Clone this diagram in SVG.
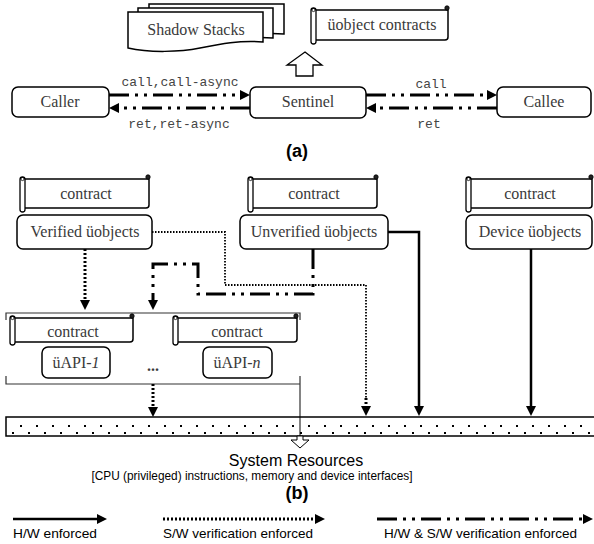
<svg xmlns="http://www.w3.org/2000/svg" width="594" height="544" viewBox="0 0 594 544">
<style>
.box{fill:#fff;stroke:#000;stroke-width:1.5}
.ser{font-family:"Liberation Serif","Times New Roman",serif;font-size:16px;fill:#3a3a3a;text-anchor:middle}
.mono{font-family:"Liberation Mono","Courier New",monospace;font-size:13px;fill:#444;text-anchor:middle}
.sans{font-family:"Liberation Sans",Arial,sans-serif;fill:#000}
.dd{fill:none;stroke:#000;stroke-width:3;stroke-dasharray:20 6 3 6 3 6}
.dot{fill:none;stroke:#000;stroke-width:3;stroke-dasharray:2 2}
.dott{fill:none;stroke:#000;stroke-width:1.8;stroke-dasharray:1.5 1.5}
.sol{fill:none;stroke:#000;stroke-width:2.5}
.roll{fill:#fff;stroke:#000;stroke-width:1.3}
.curl{fill:#222;stroke:#000;stroke-width:0.8}
</style>
<defs>
<marker id="ah" markerUnits="userSpaceOnUse" markerWidth="10" markerHeight="10" viewBox="0 0 10 10" refX="4" refY="5" orient="auto">
<path d="M0,0 L10,5 L0,10 Z" fill="#000"/>
</marker>
<path id="doc" d="M128,12 H263 V42 C240,40 220,44 200,48 C180,52 150,53 128,48 Z" fill="#fff" stroke="#000" stroke-width="1.5"/>
<pattern id="dots" patternUnits="userSpaceOnUse" x="6" y="417" width="16" height="19">
<rect x="14" y="8" width="2" height="2" fill="#000"/>
<rect x="6" y="15" width="2" height="2" fill="#000"/>
</pattern>
</defs>

<!-- (a) -->
<g id="shadow-stacks">
<use href="#doc" transform="translate(21,-8)"/>
<use href="#doc" transform="translate(10,-4)"/>
<use href="#doc"/>
<text class="ser" x="196" y="35">Shadow Stacks</text>
</g>
<g id="uobject-contracts">
<path class="box" d="M314,10 H448 V37 Q448,40 445,40 H314"/>
<rect class="roll" x="311" y="8" width="5" height="36" rx="2.5"/>
<circle cx="313.5" cy="10" r="1.6" fill="none" stroke="#000" stroke-width="0.8"/>
<circle class="curl" cx="447" cy="8" r="2.2"/>
<text class="ser" x="382" y="30">üobject contracts</text>
</g>
<g id="up-arrow">
<polygon points="305,52 322,65 313,65 313,76 296,76 296,65 287,65" fill="#fff" stroke="#000" stroke-width="1.3"/>
</g>
<g id="caller">
<rect class="box" x="12" y="87" width="97" height="30" rx="6"/>
<text class="ser" x="60" y="107">Caller</text>
</g>
<g id="sentinel">
<rect class="box" x="250" y="87" width="116" height="31" rx="6"/>
<text class="ser" x="308" y="107">Sentinel</text>
</g>
<g id="callee">
<rect class="box" x="497" y="87" width="94" height="30" rx="6"/>
<text class="ser" x="544" y="107">Callee</text>
</g>
<text id="label-a" class="sans" x="297" y="157" font-size="18" font-weight="bold" text-anchor="middle">(a)</text>

<!-- (b) nodes -->
<g id="contract-verified">
<path class="box" d="M23,179 H149 V205 Q149,208 146,208 H23"/>
<rect class="roll" x="20" y="177" width="5" height="35" rx="2.5"/>
<circle cx="22.5" cy="179" r="1.6" fill="none" stroke="#000" stroke-width="0.8"/>
<circle class="curl" cx="148" cy="177" r="2.2"/>
<text class="ser" x="86" y="199">contract</text>
</g>
<g id="verified">
<rect class="box" x="17" y="215" width="135" height="34" rx="6"/>
<text class="ser" x="85" y="237">Verified üobjects</text>
</g>
<g id="contract-unverified">
<path class="box" d="M251,179 H377 V205 Q377,208 374,208 H251"/>
<rect class="roll" x="248" y="177" width="5" height="35" rx="2.5"/>
<circle cx="250.5" cy="179" r="1.6" fill="none" stroke="#000" stroke-width="0.8"/>
<circle class="curl" cx="376" cy="177" r="2.2"/>
<text class="ser" x="314" y="199">contract</text>
</g>
<g id="unverified">
<rect class="box" x="240" y="215" width="148" height="34" rx="6"/>
<text class="ser" x="314" y="237">Unverified üobjects</text>
</g>
<g id="contract-device">
<path class="box" d="M469,179 H592 V205 Q592,208 589,208 H469"/>
<rect class="roll" x="466" y="177" width="5" height="35" rx="2.5"/>
<circle cx="468.5" cy="179" r="1.6" fill="none" stroke="#000" stroke-width="0.8"/>
<circle class="curl" cx="591" cy="177" r="2.2"/>
<text class="ser" x="530" y="199">contract</text>
</g>
<g id="device">
<rect class="box" x="466" y="215" width="126" height="34" rx="6"/>
<text class="ser" x="530" y="237">Device üobjects</text>
</g>
<g id="uapi-group">
<path d="M6,320 V313 H300 V320 M6,376 V384 H300 M300,376 V447" fill="none" stroke="#333" stroke-width="1.2"/>
</g>
<g id="contract-uapi1">
<path class="box" d="M13,318 H133 V339 Q133,342 130,342 H13"/>
<rect class="roll" x="10" y="316" width="5" height="29" rx="2.5"/>
<circle cx="12.5" cy="318" r="1.6" fill="none" stroke="#000" stroke-width="0.8"/>
<circle class="curl" cx="132" cy="316" r="2.2"/>
<text class="ser" x="73" y="337">contract</text>
</g>
<g id="uapi1">
<rect class="box" x="42" y="347" width="68" height="31" rx="6"/>
<text class="ser" x="76" y="368">üAPI-<tspan font-style="italic">1</tspan></text>
</g>
<text id="ellipsis" class="ser" x="153" y="371" font-weight="bold">...</text>
<g id="contract-uapin">
<path class="box" d="M176,318 H297 V339 Q297,342 294,342 H176"/>
<rect class="roll" x="173" y="316" width="5" height="29" rx="2.5"/>
<circle cx="175.5" cy="318" r="1.6" fill="none" stroke="#000" stroke-width="0.8"/>
<circle class="curl" cx="296" cy="316" r="2.2"/>
<text class="ser" x="237" y="337">contract</text>
</g>
<g id="uapin">
<rect class="box" x="203" y="347" width="69" height="31" rx="6"/>
<text class="ser" x="237" y="368">üAPI-<tspan font-style="italic">n</tspan></text>
</g>
<g id="system-resources">
<rect x="6" y="417" width="600" height="19" fill="url(#dots)" stroke="#000" stroke-width="1.5"/>
<polygon points="297,436 303,436 303,440 309,440 300,448 291,440 297,440" fill="#fff" stroke="#000" stroke-width="1"/>
<text class="sans" x="296" y="466" font-size="16" text-anchor="middle">System Resources</text>
<text class="sans" x="252" y="480" font-size="12.5" text-anchor="middle" textLength="321" lengthAdjust="spacingAndGlyphs">[CPU (privileged) instructions, memory and device interfaces]</text>
</g>
<text id="label-b" class="sans" x="297" y="499" font-size="18" font-weight="bold" text-anchor="middle">(b)</text>

<!-- connectors -->
<g id="connectors">
<path class="dd" d="M109,95 H244" marker-end="url(#ah)"/>
<path class="dd" d="M250,108 H115" marker-end="url(#ah)"/>
<path class="dd" d="M366,95 H491" marker-end="url(#ah)"/>
<path class="dd" d="M497,108 H372" marker-end="url(#ah)"/>
<text class="mono" x="180" y="86">call,call-async</text>
<text class="mono" x="179" y="128">ret,ret-async</text>
<text class="mono" x="431" y="88">call</text>
<text class="mono" x="429" y="128">ret</text>

<path class="dot" d="M85,249 V304" marker-end="url(#ah)"/>
<path class="dott" d="M152,232 H225 V285 H366 V400"/>
<path class="dot" d="M366,398 V410" marker-end="url(#ah)"/>
<path class="dd" d="M313,249 V294 H198 V264 H153 V304" marker-end="url(#ah)"/>
<path class="sol" d="M388,232 H419 V410" marker-end="url(#ah)"/>
<path class="sol" d="M531,249 V410" marker-end="url(#ah)"/>
<path class="dot" d="M153,384 V411" marker-end="url(#ah)"/>
</g>

<!-- legend -->
<g id="legend">
<path class="sol" d="M13,519 H101" marker-end="url(#ah)"/>
<text class="sans" x="13" y="538" font-size="13" textLength="84" lengthAdjust="spacingAndGlyphs">H/W enforced</text>
<path class="dot" d="M163,519 H319" marker-end="url(#ah)" stroke-width="2.5"/>
<text class="sans" x="163" y="538" font-size="13" textLength="150" lengthAdjust="spacingAndGlyphs">S/W verification enforced</text>
<path class="dd" d="M377,519 H587" marker-end="url(#ah)"/>
<text class="sans" x="384" y="538" font-size="13" textLength="193" lengthAdjust="spacingAndGlyphs">H/W &amp; S/W verification enforced</text>
</g>
</svg>
